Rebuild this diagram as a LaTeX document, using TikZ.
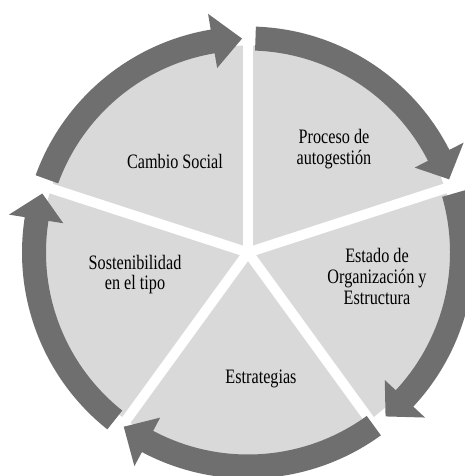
\documentclass[tikz,border=0pt]{standalone}
\usepackage{fontspec}
\setmainfont{Liberation Serif}[FakeStretch=0.79]
\definecolor{piegray}{RGB}{217,217,217}
\definecolor{arrowgray}{RGB}{111,111,111}
\newcommand\cyclearrow[3]{%
  \fill[arrowgray] (#1:202) arc[start angle=#1, end angle=#2, radius=202]
    -- (#2:187) -- (#3:214) -- (#2:242) -- (#2:226)
    arc[start angle=#2, end angle=#1, radius=226] -- cycle;}
\begin{document}
\begin{tikzpicture}[x=1pt,y=1pt,
  label/.style={font=\fontsize{20.5}{20.8}\selectfont, align=center, inner sep=0pt, text=black}]
\useasboundingbox (0,0) rectangle (465,476);
\clip (0,0) rectangle (465,476);
\fill[white] (0,0) rectangle (465,476);
\coordinate (C) at (248,223.5);
\begin{scope}[shift={(C)}]
  \fill[piegray] (0,0) circle[radius=207];
  \foreach \g in {90,18,-54,-126,162}
    \draw[white, line width=10pt] (0,0) -- (\g:250);
  \cyclearrow{88}{27}{20}
  \cyclearrow{16}{-43}{-50}
  \cyclearrow{-54}{-118}{-125.5}
  \cyclearrow{231.5}{171}{164}
  \cyclearrow{160}{99.5}{91.6}
\end{scope}
\node[label] (cambio) at (175,314.5) {Cambio Social};
\node[label] (proceso) at (334,327) {Proceso de\\autogestión};
\node[label] (estado) at (377,199.5) {Estado de\\Organización y\\Estructura};
\node[label] (sost) at (135,201.5) {Sostenibilidad\\en el tipo};
\node[label] (estrat) at (261,97.5) {Estrategias};
\end{tikzpicture}
\end{document}
